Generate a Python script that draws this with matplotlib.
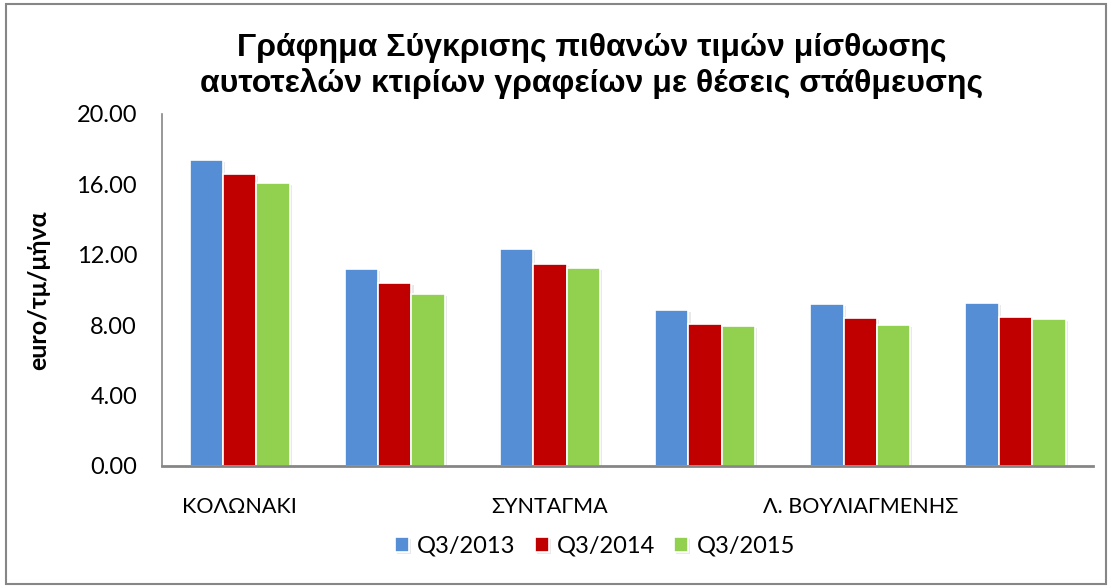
import matplotlib
matplotlib.use("Agg")
import matplotlib.pyplot as plt
import matplotlib.patheffects as pe
from matplotlib.patches import Rectangle
import numpy as np

categories = ["ΚΟΛΩΝΑΚΙ", "", "ΣΥΝΤΑΓΜΑ", "", "Λ. ΒΟΥΛΙΑΓΜΕΝΗΣ", ""]
series_names = ["Q3/2013", "Q3/2014", "Q3/2015"]
q3_2013 = [17.39, 11.17, 12.31, 8.86, 9.19, 9.28]
q3_2014 = [16.59, 10.38, 11.46, 8.05, 8.41, 8.48]
q3_2015 = [16.08, 9.76, 11.25, 7.95, 8.03, 8.35]
colors = ["#558ED5", "#C00000", "#92D050"]
yticks = [0, 4, 8, 12, 16, 20]
title = "Γράφημα Σύγκρισης πιθανών τιμών μίσθωσης\nαυτοτελών κτιρίων γραφείων με θέσεις στάθμευσης"
ylabel = "euro/τμ/μήνα"

fig = plt.figure(figsize=(11.12, 5.86), dpi=100)
ax = fig.add_axes([0.1457, 0.2048, 0.983 - 0.1457, 0.8055 - 0.2048])

x = np.arange(len(categories))
bw = 0.215
series = [q3_2013, q3_2014, q3_2015]
shadow = [pe.SimplePatchShadow(offset=(1.5, -1.5), shadow_rgbFace="#aaaaaa", alpha=0.25), pe.Normal()]
for i, (vals, c, name) in enumerate(zip(series, colors, series_names)):
    bars = ax.bar(x + (i - 1) * bw, vals, width=bw, color=c, edgecolor="white",
                  linewidth=1.2, label=name, zorder=3)
    for b in bars:
        b.set_path_effects(shadow)

ax.set_xlim(-0.5, len(categories) - 0.5)
ax.set_ylim(0, 20)
ax.set_yticks(yticks)
ax.set_yticklabels([f"{v:.2f}" for v in yticks], fontfamily="Lato", fontsize=17)
ax.set_xticks(x)
ax.set_xticklabels(categories, fontfamily="Lato", fontsize=15.5)
ax.tick_params(axis="both", length=0)
ax.tick_params(axis="x", pad=22)
ax.tick_params(axis="y", pad=18)
for s in ["top", "right"]:
    ax.spines[s].set_visible(False)
ax.spines["left"].set_color("#868686")
ax.spines["left"].set_linewidth(1.2)
ax.spines["bottom"].set_color("#868686")
ax.spines["bottom"].set_linewidth(2)
ax.spines["bottom"].set_zorder(4)

ax.set_ylabel(ylabel, fontfamily="Lato", fontweight="bold", fontsize=18, labelpad=19)

fig.text(0.532, 0.888, title, ha="center", va="center", fontfamily="Liberation Sans",
         fontweight="bold", fontsize=23, linespacing=1.2)

leg = fig.legend(loc="center", bbox_to_anchor=(0.535, 0.068), ncol=3, frameon=False,
                 prop={"family": "Lato", "size": 17}, handlelength=0.6, handleheight=0.6,
                 handletextpad=0.35, columnspacing=0.8)

fig.patches.append(Rectangle((0.005, 0.004), 0.99, 0.99, transform=fig.transFigure,
                             fill=False, edgecolor="#868686", linewidth=1.5))

fig.savefig("out.png", dpi=100, facecolor="white")
